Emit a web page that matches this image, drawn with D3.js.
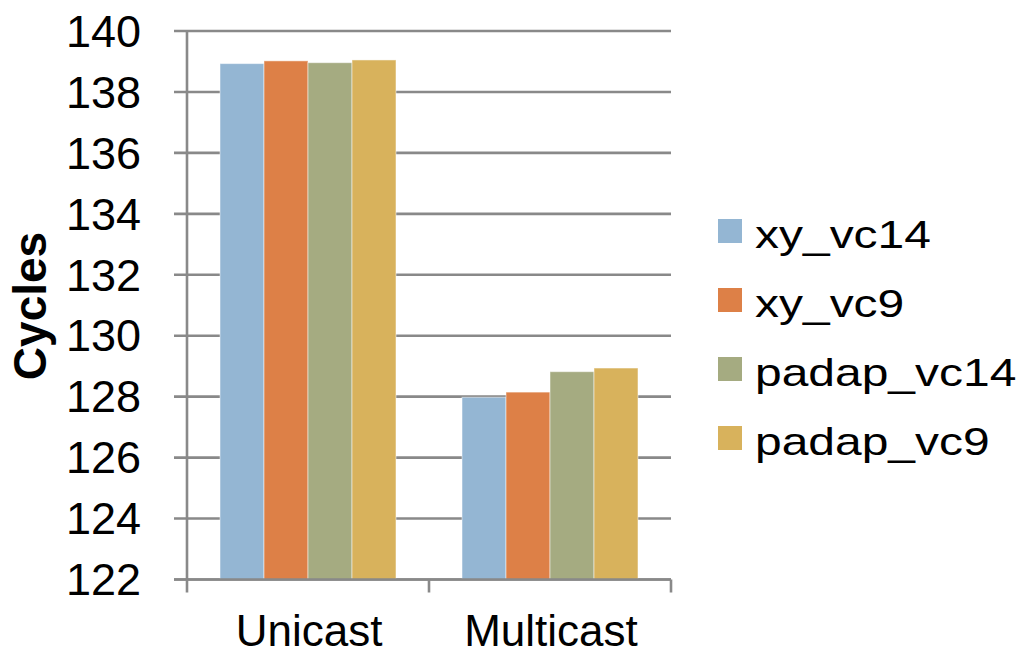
<!DOCTYPE html>
<html>
<head>
<meta charset="utf-8">
<script src="https://cdn.jsdelivr.net/npm/d3@7"></script>
<style>
  html, body { margin: 0; padding: 0; background: #ffffff; }
  svg { display: block; font-family: Arial, "Liberation Sans", sans-serif; }
</style>
</head>
<body>
<svg id="chart" width="1023" height="656"></svg>
<script>
// Categories and series
const categories = ["Unicast", "Multicast"];
const seriesNames = ["xy_vc14", "xy_vc9", "padap_vc14", "padap_vc9"];
const xy_vc14 = [138.93, 127.98];
const xy_vc9 = [139.02, 128.15];
const padap_vc14 = [138.96, 128.82];
const padap_vc9 = [139.05, 128.94];
const seriesValues = [xy_vc14, xy_vc9, padap_vc14, padap_vc9];
const yTicks = [122, 124, 126, 128, 130, 132, 134, 136, 138, 140];
const colors = ["#94b6d3", "#dd8047", "#a5ab81", "#d8b25c"];

const svg = d3.select("#chart");
const plotLeft = 187, plotRight = 671, plotTop = 31, plotBottom = 579.5;
const gridColor = "#898989";

const y = d3.scaleLinear().domain([122, 140]).range([plotBottom, plotTop]);
const x0 = d3.scaleBand().domain(categories).range([plotLeft, plotRight]).padding(0);
const x1 = d3.scaleBand().domain(seriesNames)
  .range([33, x0.bandwidth() - 33]).padding(0);

// Horizontal gridlines with outside tick marks
svg.append("g").selectAll("line").data(yTicks).join("line")
  .attr("x1", plotLeft - 13).attr("x2", plotRight)
  .attr("y1", d => y(d)).attr("y2", d => y(d))
  .attr("stroke", gridColor).attr("stroke-width", 2.6);

// Bars
const rows = categories.map((c, i) => ({ cat: c, vals: seriesNames.map((s, j) => ({ s, v: seriesValues[j][i], j })) }));
svg.append("g").selectAll("g").data(rows).join("g")
  .attr("transform", d => `translate(${x0(d.cat)},0)`)
  .selectAll("rect").data(d => d.vals).join("rect")
  .attr("x", d => x1(d.s))
  .attr("width", x1.bandwidth())
  .attr("y", d => y(d.v))
  .attr("height", d => y(122) - y(d.v))
  .attr("fill", d => colors[d.j])
  .attr("stroke", "#ffffff").attr("stroke-opacity", 0.5).attr("stroke-width", 1);

// Y axis line
svg.append("line")
  .attr("x1", plotLeft).attr("x2", plotLeft).attr("y1", plotTop).attr("y2", plotBottom)
  .attr("stroke", gridColor).attr("stroke-width", 2.6);
// X axis line and category separators
svg.append("line")
  .attr("x1", plotLeft - 13).attr("x2", plotRight).attr("y1", plotBottom).attr("y2", plotBottom)
  .attr("stroke", gridColor).attr("stroke-width", 2.6);
const sepX = [plotLeft, ...categories.map(c => x0(c) + x0.bandwidth())];
svg.append("g").selectAll("line").data(sepX).join("line")
  .attr("x1", d => d).attr("x2", d => d)
  .attr("y1", plotBottom).attr("y2", plotBottom + 13)
  .attr("stroke", gridColor).attr("stroke-width", 2.6);

// Y tick labels
svg.append("g").selectAll("text").data(yTicks).join("text")
  .attr("x", 141).attr("y", d => y(d)).attr("dy", "0.35em")
  .attr("text-anchor", "end").attr("font-size", 45).attr("fill", "#000")
  .text(d => d);

// Category labels
svg.append("g").selectAll("text").data(categories).join("text")
  .attr("x", d => x0(d) + x0.bandwidth() / 2 + 1).attr("y", 646)
  .attr("text-anchor", "middle").attr("font-size", 44).attr("fill", "#000")
  .text(d => d);

// Y axis title
svg.append("text")
  .attr("transform", "translate(46,306) rotate(-90)")
  .attr("text-anchor", "middle").attr("font-size", 46).attr("font-weight", "bold")
  .text("Cycles");

// Legend (entry text is drawn wide, stretched horizontally)
const legendY = [231, 300, 369, 438];
const legend = svg.append("g").selectAll("g").data(seriesNames).join("g")
  .attr("transform", (d, i) => `translate(718,${legendY[i]})`);
legend.append("rect")
  .attr("x", 0).attr("y", -12).attr("width", 24).attr("height", 24)
  .attr("fill", (d, i) => colors[i]);
legend.append("text")
  .attr("transform", "translate(37,16.5) scale(1.23,1)")
  .attr("font-size", 39).attr("fill", "#000")
  .text(d => d);
</script>
</body>
</html>
